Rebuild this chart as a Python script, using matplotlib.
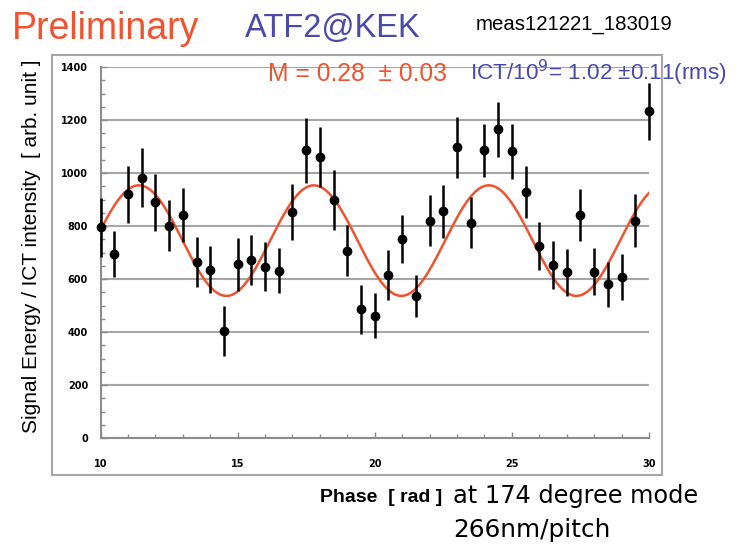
import numpy as np
import matplotlib.pyplot as plt
from matplotlib.patches import Rectangle
from matplotlib.ticker import MultipleLocator

# measured points: phase [rad], signal energy / ICT, error
phase = [10, 10.5, 11, 11.5, 12, 12.5, 13, 13.5, 14, 14.5, 15, 15.5, 16, 16.5,
         17, 17.5, 18, 18.5, 19, 19.5, 20, 20.5, 21, 21.5, 22, 22.5, 23, 23.5,
         24, 24.5, 25, 25.5, 26, 26.5, 27, 27.5, 28, 28.5, 29, 29.5, 30]
signal = [795, 694, 920, 982, 889, 801, 842, 664, 635, 405, 655, 672, 646, 631,
          853, 1086, 1061, 898, 707, 486, 461, 615, 750, 536, 820, 856, 1098, 813,
          1086, 1165, 1082, 929, 725, 653, 625, 841, 628, 581, 609, 820, 1233]
err = [110, 86, 108, 112, 108, 97, 103, 94, 89, 94, 100, 96, 93, 85,
       104, 122, 114, 112, 97, 93, 85, 93, 91, 78, 97, 100, 115, 95,
       100, 104, 104, 97, 91, 90, 89, 97, 90, 85, 87, 100, 107]

# fit result (modulation M)
fit_mean = 745
fit_M = 0.28
fit_period = 6.38
fit_peak = 11.40

red = '#ef5330'
blue = '#4a4aae'
grey = '#a6a6a6'
fam = ['Liberation Sans', 'DejaVu Sans']
wide = ['DejaVu Sans']

fig = plt.figure(figsize=(7.49, 5.45), dpi=100)
ax = fig.add_axes([0.1342, 0.1963, 0.7323, 0.6807])

xs = np.linspace(10, 30, 400)
ax.plot(xs, fit_mean * (1 + fit_M * np.cos(2 * np.pi * (xs - fit_peak) / fit_period)),
        color=red, lw=1.8, zorder=3)
ax.errorbar(phase, signal, yerr=err, fmt='o', color='black', ms=6, elinewidth=1.8,
            capsize=0, zorder=4, clip_on=False)

ax.set_xlim(10, 30)
ax.set_ylim(0, 1400)
ax.xaxis.set_major_locator(MultipleLocator(5))
ax.xaxis.set_minor_locator(MultipleLocator(1))
ax.yaxis.set_major_locator(MultipleLocator(200))
ax.yaxis.set_minor_locator(MultipleLocator(50))
ax.grid(axis='y', color=grey, lw=1.5)
ax.set_axisbelow(True)
for s in ['top', 'right']:
    ax.spines[s].set_visible(False)
for s in ['left', 'bottom']:
    ax.spines[s].set_color('#8c8c8c')
    ax.spines[s].set_linewidth(1.5)
ax.tick_params(which='both', direction='in', color='#8c8c8c', width=1)
ax.tick_params(which='major', length=4)
ax.tick_params(which='minor', length=3)
ax.tick_params(axis='x', pad=15, labelsize=7)
ax.tick_params(axis='y', pad=9, labelsize=7)
for lab in ax.get_xticklabels() + ax.get_yticklabels():
    lab.set_fontweight('bold')

# outer frame
fig.patches.append(Rectangle((52 / 749, 70 / 545), 610 / 749, 420 / 545,
                             transform=fig.transFigure, fill=False,
                             edgecolor=grey, lw=1.5))

fig.text(12 / 749, 1 - 29 / 545, 'Preliminary', color=red, fontsize=27,
         family=fam, va='center')
fig.text(245 / 749, 1 - 28 / 545, 'ATF2@KEK', color=blue, fontsize=23.5,
         family=fam, va='center')
fig.text(476 / 749, 1 - 24 / 545, 'meas121221_183019', color='black', fontsize=14.7,
         family=fam, va='center')
fig.text(268 / 749, 1 - 74 / 545, 'M = 0.28  ± 0.03', color=red, fontsize=17.7,
         family=fam, va='center')
fig.text(470 / 749, 1 - 73 / 545, 'ICT/10$^9$= 1.02 ±0.11(rms)', color=blue,
         fontsize=16.2, family=fam, va='center')

fig.text(32 / 749, 1 - 246 / 545, 'Signal Energy / ICT intensity  [ arb. unit ]',
         rotation=90, fontsize=15, family=fam, va='center', ha='center')
fig.text(320 / 749, 1 - 497 / 545, 'Phase  [ rad ]', fontsize=14, family=fam,
         weight='bold', va='center')
fig.text(453 / 749, 1 - 496 / 545, 'at 174 degree mode', fontsize=17.3, family=wide,
         va='center')
fig.text(453 / 749, 1 - 530 / 545, '266nm/pitch', fontsize=17.8, family=wide,
         va='center')

fig.savefig('out.png', dpi=100)
